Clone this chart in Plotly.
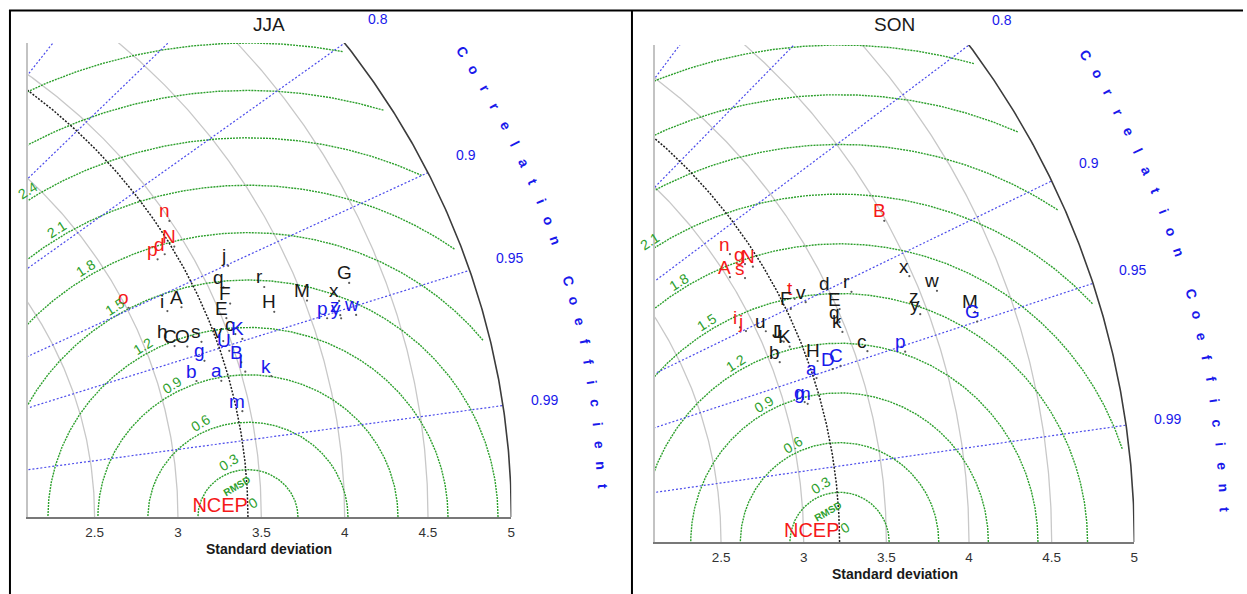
import numpy as np
import plotly.graph_objects as go

W, H = 1247, 594

REF_NAME = "NCEP"
REF_STD = {"JJA": 3.42, "SON": 3.217}

# ---------------- JJA models: label, standard deviation, correlation ----------------
jja_red_lab = ["n", "N", "d", "p", "o"]
jja_red_std = [3.494, 3.435, 3.361, 3.308, 3.010]
jja_red_cor = [0.844, 0.867, 0.869, 0.870, 0.898]

jja_blk_lab = ["j", "q", "r", "G", "M", "x", "A", "i", "F", "E", "H",
               "h", "C", "O", "s", "v", "c"]
jja_blk_std = [3.664, 3.581, 3.807, 4.291, 4.015, 4.196, 3.300, 3.213, 3.578, 3.523, 3.806,
               3.139, 3.170, 3.241, 3.331, 3.456, 3.539]
jja_blk_cor = [0.901, 0.914, 0.924, 0.9385, 0.940, 0.9454, 0.9155, 0.914, 0.926, 0.934, 0.940,
               0.9356, 0.940, 0.943, 0.943, 0.9467, 0.945]

jja_blu_lab = ["K", "U", "g", "B", "I", "b", "a", "k", "m", "p", "z", "y", "w"]
jja_blu_std = [3.569, 3.471, 3.310, 3.519, 3.526, 3.228, 3.372, 3.670, 3.452,
               4.093, 4.174, 4.173, 4.265]
jja_blu_cor = [0.9488, 0.953, 0.9544, 0.9605, 0.9654, 0.9638, 0.9668, 0.970, 0.981,
               0.9516, 0.952, 0.9535, 0.954]

# ---------------- SON models ----------------
son_red_lab = ["B", "n", "g", "N", "A", "s", "t", "i", "j"]
son_red_std = [3.990, 3.089, 3.132, 3.164, 3.013, 3.088, 3.291, 2.918, 2.941]
son_red_cor = [0.874, 0.8268, 0.8445, 0.851, 0.8477, 0.8566, 0.895, 0.896, 0.9014]

son_blk_lab = ["x", "w", "d", "r", "v", "F", "E", "z", "y", "M", "q", "k",
               "u", "J", "L", "K", "c", "b", "H"]
son_blk_std = [3.977, 4.097, 3.494, 3.619, 3.342, 3.243, 3.511, 3.964, 3.952, 4.268, 3.480, 3.474,
               3.049, 3.113, 3.123, 3.145, 3.576, 3.0545, 3.272]
son_blk_cor = [0.915, 0.929, 0.9035, 0.9088, 0.9013, 0.901, 0.9163, 0.9332, 0.9375, 0.9456, 0.9244, 0.931,
               0.9088, 0.921, 0.922, 0.927, 0.9467, 0.9347, 0.9426]

son_blu_lab = ["G", "p", "D", "C", "a", "g", "m"]
son_blu_std = [4.262, 3.792, 3.342, 3.394, 3.233, 3.1225, 3.137]
son_blu_cor = [0.950, 0.953, 0.950, 0.9496, 0.952, 0.9627, 0.964]

# ---------------- diagram grid ----------------
STD_ARCS = [2.5, 3.0, 3.5, 4.0, 4.5]
STD_MAX = 5.0
CORR_LINES = [0.6, 0.7, 0.8, 0.9, 0.95, 0.99]
CORR_LABELS = ["0.8", "0.9", "0.95", "0.99"]
RMS_RADII = [0.3, 0.6, 0.9, 1.2, 1.5, 1.8, 2.1, 2.4, 2.7, 3.0]
RMS_LABELS = ["0.3", "0.6", "0.9", "1.2", "1.5", "1.8", "2.1", "2.4"]
X_TICKS = [2.5, 3, 3.5, 4, 4.5, 5]
X_TICK_TEXT = ["2.5", "3", "3.5", "4", "4.5", "5"]
X_RANGE = [2.1, 5.0]
Y_RANGE = [0.0, 3.0]

# pixel boxes of the two plot areas (left, right, top, bottom)
PANELS = {"JJA": (28, 513, 43, 517), "SON": (657, 1138, 45, 542)}

RED = "rgb(245,25,25)"
BLACK = "rgb(25,25,25)"
BLUE = "rgb(25,25,235)"
GREEN = "rgb(45,160,45)"
LBLUE = "rgb(75,75,235)"
FONT = "Liberation Sans, Arial, sans-serif"

fig = go.Figure()


def add_panel(season, idx, groups):
    xa = "x" if idx == 1 else f"x{idx}"
    ya = "y" if idx == 1 else f"y{idx}"
    ref = REF_STD[season]
    px0, px1, py0, py1 = PANELS[season]
    sx = (px1 - px0) / (X_RANGE[1] - X_RANGE[0])
    sy = (py1 - py0) / (Y_RANGE[1] - Y_RANGE[0])

    def to_paper(x, y):
        # labels drawn outside the axis ranges are placed in paper units
        return (px0 + (x - X_RANGE[0]) * sx) / W, 1 - (py1 - (y - Y_RANGE[0]) * sy) / H

    def line(x, y, color, width, dash="solid"):
        fig.add_trace(go.Scatter(x=x, y=y, mode="lines", xaxis=xa, yaxis=ya,
                                 line=dict(color=color, width=width, dash=dash),
                                 hoverinfo="skip", showlegend=False))

    th = np.linspace(0, np.pi / 2, 500)
    # standard deviation arcs
    for r in STD_ARCS:
        line(r * np.cos(th), r * np.sin(th), "rgb(200,200,200)", 1.3)
    # centred RMS difference arcs
    tt = np.linspace(0, np.pi, 900)
    for r in RMS_RADII:
        x = ref + r * np.cos(tt)
        y = r * np.sin(tt)
        keep = np.hypot(x, y) <= 4.96
        x = np.where(keep, x, np.nan)
        y = np.where(keep, y, np.nan)
        line(x, y, GREEN, 1.4, "2px,1px")
    # correlation rays
    for c in CORR_LINES:
        s = np.sqrt(1 - c * c)
        line([1.5 * c, STD_MAX * c], [1.5 * s, STD_MAX * s], LBLUE, 1.2, "2px,2px")
    # outer boundary and reference arc
    line(STD_MAX * np.cos(th), STD_MAX * np.sin(th), "rgb(60,60,60)", 1.6)
    line(ref * np.cos(th), ref * np.sin(th), "rgb(30,30,30)", 1.5, "2px,1.5px")

    # models: a small dot at each point, its letter up and to the left
    for lab, std, cor, col in groups:
        std = np.asarray(std, float)
        cor = np.asarray(cor, float)
        x = std * cor
        y = std * np.sqrt(1 - cor ** 2)
        fig.add_trace(go.Scatter(
            x=x, y=y, mode="markers", marker=dict(size=2.2, color="rgb(90,90,90)"),
            xaxis=xa, yaxis=ya, hoverinfo="skip", showlegend=False))
        for l, xv, yv in zip(lab, x, y):
            fig.add_annotation(x=xv, y=yv, xref=xa, yref=ya, text=l, showarrow=False,
                               xanchor="center", yanchor="middle", xshift=-5, yshift=10,
                               font=dict(family=FONT, size=19, color=col))

    # reference point
    fig.add_trace(go.Scatter(
        x=[ref], y=[0.0], mode="text", text=[REF_NAME], textposition="top left",
        textfont=dict(family=FONT, size=20, color=RED),
        xaxis=xa, yaxis=ya, hoverinfo="skip", showlegend=False, cliponaxis=False))

    # RMS labels
    ang = np.deg2rad(125)
    for r_txt in RMS_LABELS:
        r = float(r_txt)
        x = ref + r * np.cos(ang) + 10 / sx
        y = r * np.sin(ang) + 16 / sy
        if x < 2.05:
            continue
        px, py = to_paper(x, y)
        fig.add_annotation(x=px, y=py, xref="paper", yref="paper", text=r_txt, showarrow=False,
                           xanchor="center", yanchor="middle", textangle=-32,
                           font=dict(family=FONT, size=14, color=GREEN))
    fig.add_annotation(x=ref + 5 / sx, y=14 / sy, xref=xa, yref=ya, text="0", showarrow=False,
                       textangle=-32, font=dict(family=FONT, size=14, color=GREEN))
    fig.add_annotation(x=ref - 12 / sx, y=31 / sy, xref=xa, yref=ya, text="<b>RMSD</b>",
                       showarrow=False, textangle=-30,
                       font=dict(family=FONT, size=10, color=GREEN))

    # correlation values
    for c_txt in CORR_LABELS:
        c = float(c_txt)
        s = np.sqrt(1 - c * c)
        px, py = to_paper(5.25 * c, 5.25 * s)
        fig.add_annotation(x=px, y=py, xref="paper", yref="paper", text=c_txt,
                           xanchor="center", yanchor="middle",
                           showarrow=False, font=dict(family=FONT, size=14, color=BLUE))

    # curved axis title
    title = "Correlation Coefficient"
    n = len(title)
    for i, ch in enumerate(title):
        if ch == " ":
            continue
        a_deg = 32.0 - i * (30.0 / (n - 1))
        a = np.deg2rad(a_deg)
        rot = np.degrees(np.arctan2(sy * np.cos(a), sx * np.sin(a)))
        px, py = to_paper(5.55 * np.cos(a), 5.55 * np.sin(a))
        fig.add_annotation(x=px, y=py, xref="paper", yref="paper",
                           text=f"<b>{ch}</b>", showarrow=False, textangle=rot,
                           xanchor="center", yanchor="middle",
                           font=dict(family=FONT, size=14, color=BLUE))

    # titles
    fig.add_annotation(x=(270 if season == "JJA" else 897) / W, y=1 - 25 / H,
                       xref="paper", yref="paper", text=season, showarrow=False,
                       xanchor="center", yanchor="middle",
                       font=dict(family=FONT, size=19, color=BLACK))
    fig.add_annotation(x=(270 if season == "JJA" else 898) / W,
                       y=1 - (py1 + 32) / H, xref="paper", yref="paper",
                       text="<b>Standard deviation</b>", showarrow=False,
                       xanchor="center", yanchor="middle",
                       font=dict(family=FONT, size=14, color=BLACK))

    axis_common = dict(showgrid=False, zeroline=False)
    fig.update_layout({
        ("xaxis" if idx == 1 else f"xaxis{idx}"): dict(
            domain=[px0 / W, px1 / W], range=X_RANGE, anchor=ya,
            tickvals=X_TICKS, ticktext=X_TICK_TEXT, ticks="outside", ticklen=2,
            tickcolor="rgba(0,0,0,0)",
            tickfont=dict(family=FONT, size=13.5, color="rgb(50,50,50)"),
            showline=True, linecolor="rgb(120,120,120)", linewidth=2, **axis_common),
        ("yaxis" if idx == 1 else f"yaxis{idx}"): dict(
            domain=[1 - py1 / H, 1 - py0 / H], range=Y_RANGE, anchor=xa,
            showticklabels=False, ticks="", showline=True,
            linecolor="rgb(195,195,195)", linewidth=2, **axis_common),
    })


add_panel("JJA", 1, [
    (jja_red_lab, jja_red_std, jja_red_cor, RED),
    (jja_blk_lab, jja_blk_std, jja_blk_cor, BLACK),
    (jja_blu_lab, jja_blu_std, jja_blu_cor, BLUE),
])
add_panel("SON", 2, [
    (son_red_lab, son_red_std, son_red_cor, RED),
    (son_blk_lab, son_blk_std, son_blk_cor, BLACK),
    (son_blu_lab, son_blu_std, son_blu_cor, BLUE),
])

# table frame around the two panels
frame = dict(type="line", xref="paper", yref="paper", line=dict(color="black", width=2))
fig.add_shape(x0=9 / W, x1=1247 / W, y0=1 - 10.5 / H, y1=1 - 10.5 / H, **frame)
fig.add_shape(x0=10 / W, x1=10 / W, y0=0, y1=1 - 10 / H, **frame)
fig.add_shape(x0=634 / W, x1=634 / W, y0=0, y1=1 - 10 / H, **frame)

fig.update_layout(
    width=W, height=H, margin=dict(l=0, r=0, t=0, b=0),
    paper_bgcolor="white", plot_bgcolor="white", showlegend=False,
    font=dict(family=FONT),
)

fig.write_html("out.html")
